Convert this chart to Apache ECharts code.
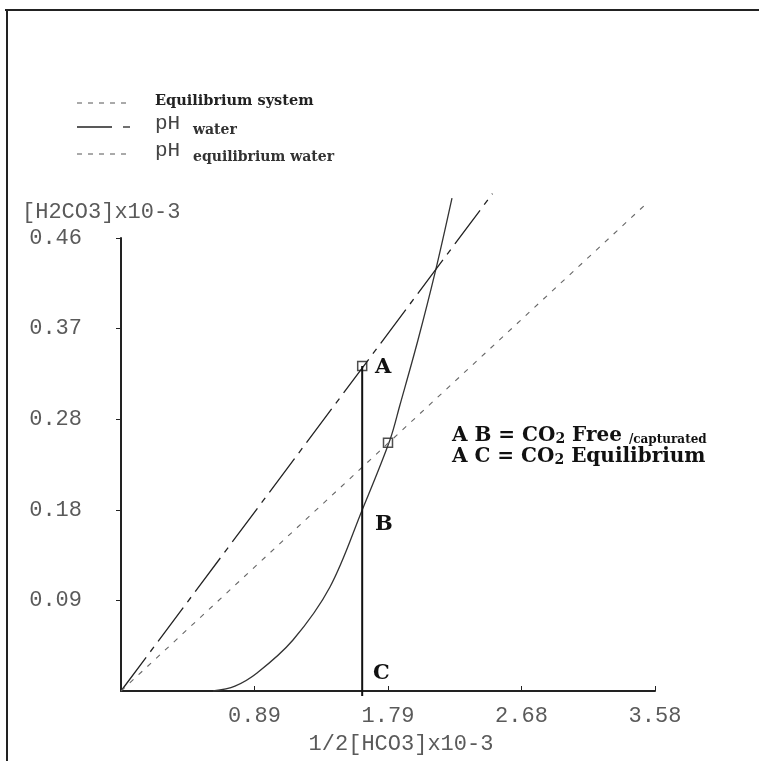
<!DOCTYPE html>
<html><head><meta charset="utf-8">
<script src="https://cdn.jsdelivr.net/npm/echarts@6/dist/echarts.min.js"></script>
<style>html,body{margin:0;padding:0;background:#fff}#c{width:759px;height:761px}</style>
</head><body><div id="c"></div>
<script>
// ---- data ----
const xTickLabels = ['0.89', '1.79', '2.68', '3.58'];
const yTickLabels = ['0.09', '0.18', '0.28', '0.37', '0.46'];
const xInterval = 0.895, xMax = 3.58;
const yInterval = 0.092, yMax = 0.46;
const equilibriumX = [0.617, 0.764, 0.912, 1.153, 1.401, 1.617, 1.803, 1.870, 1.991, 2.105, 2.219];
const equilibriumY = [0, 0.005, 0.0183, 0.0518, 0.1056, 0.1838, 0.2549, 0.2904, 0.3564, 0.4245, 0.5006];
const phWaterX = [0, 2.49];
const phWaterY = [0, 0.505];
const phEqX = [0, 3.53];
const phEqY = [0, 0.496];
const pointA = [1.617, 0.330];
const pointCBottom = [1.617, -0.005];
const pointEq = [1.79, 0.252];

const zip = (xs, ys) => xs.map((x, i) => [x, ys[i]]);

const chart = echarts.init(document.getElementById('c'), null, {renderer: 'canvas'});
const mono = "'Liberation Mono', 'DejaVu Sans Mono', monospace";
const serif = "'DejaVu Serif', 'Liberation Serif', serif";

const option = {
  backgroundColor: '#fff',
  animation: false,
  grid: {left: 121, right: 104, top: 238, bottom: 70, containLabel: false},
  xAxis: {
    type: 'value', min: 0, max: xMax, interval: xInterval,
    axisLine: {show: true, onZero: false, lineStyle: {color: '#222', width: 2}},
    axisTick: {show: true, inside: true, length: 5, lineStyle: {color: '#222', width: 1}},
    splitLine: {show: false},
    axisLabel: {
      show: true, showMinLabel: false, margin: 14,
      fontFamily: mono, fontSize: 22, color: '#5a5a5a',
      formatter: v => { const i = Math.round(v / xInterval) - 1; return i >= 0 ? xTickLabels[i] : ''; }
    }
  },
  yAxis: {
    type: 'value', min: 0, max: yMax, interval: yInterval,
    axisLine: {show: true, onZero: false, lineStyle: {color: '#222', width: 2}},
    axisTick: {show: true, inside: false, length: 5, lineStyle: {color: '#222', width: 1}},
    splitLine: {show: false},
    axisLabel: {
      show: true, showMinLabel: false, margin: 39, padding: [8, 0, 0, 0],
      fontFamily: mono, fontSize: 22, color: '#5a5a5a',
      formatter: v => { const i = Math.round(v / yInterval) - 1; return i >= 0 ? yTickLabels[i] : ''; }
    }
  },
  series: [
    {
      name: 'Equilibrium system', type: 'line', data: zip(equilibriumX, equilibriumY),
      showSymbol: false, smooth: 0.35, clip: false,
      lineStyle: {color: '#333', width: 1.3}
    },
    {
      name: 'pH water', type: 'line', data: zip(phWaterX, phWaterY),
      showSymbol: false, clip: false,
      lineStyle: {color: '#222', width: 1.3, type: [42, 7, 6, 7]}
    },
    {
      name: 'pH equilibrium water', type: 'line', data: zip(phEqX, phEqY),
      showSymbol: false, clip: false,
      lineStyle: {color: '#666', width: 1.1, type: [5, 7]}
    },
    {
      name: 'AC', type: 'line', data: [pointA, pointCBottom],
      showSymbol: false, clip: false,
      lineStyle: {color: '#111', width: 2}
    },
    {
      name: 'markers', type: 'scatter', data: [pointA, pointEq], clip: false,
      symbol: 'rect', symbolSize: 9,
      itemStyle: {color: '#fff', borderColor: '#222', borderWidth: 1.5}
    }
  ],
  graphic: [
    // frame
    {type: 'line', shape: {x1: 5, y1: 10, x2: 759, y2: 10}, style: {stroke: '#222', lineWidth: 2}},
    {type: 'line', shape: {x1: 7, y1: 10, x2: 7, y2: 761}, style: {stroke: '#222', lineWidth: 2}},
    // legend
    {type: 'line', shape: {x1: 77, y1: 103, x2: 131, y2: 103}, style: {stroke: '#555', lineWidth: 1, lineDash: [5, 6]}},
    {type: 'text', left: 155, top: 94, style: {text: 'Equilibrium system', font: "bold 14.5px " + serif, fill: '#222'}},
    {type: 'line', shape: {x1: 77, y1: 127, x2: 112, y2: 127}, style: {stroke: '#222', lineWidth: 1.3}},
    {type: 'line', shape: {x1: 123, y1: 127, x2: 130, y2: 127}, style: {stroke: '#222', lineWidth: 1.3}},
    {type: 'text', left: 155, top: 113, style: {text: 'pH', font: "21px " + mono, fill: '#444'}},
    {type: 'text', left: 193, top: 123, style: {text: 'water', font: "bold 14px " + serif, fill: '#333'}},
    {type: 'line', shape: {x1: 77, y1: 154, x2: 131, y2: 154}, style: {stroke: '#555', lineWidth: 1, lineDash: [5, 6]}},
    {type: 'text', left: 155, top: 140, style: {text: 'pH', font: "21px " + mono, fill: '#444'}},
    {type: 'text', left: 193, top: 150, style: {text: 'equilibrium water', font: "bold 14px " + serif, fill: '#333'}},
    // axis names
    {type: 'text', left: 22, top: 201, style: {text: '[H2CO3]x10-3', font: "22px " + mono, fill: '#5a5a5a'}},
    {type: 'text', x: 401, y: 744, style: {text: '1/2[HCO3]x10-3', font: "22px " + mono, fill: '#5a5a5a', align: 'center', verticalAlign: 'middle'}},
    // point labels
    {type: 'text', x: 375, y: 368, style: {text: 'A', font: "bold 21px " + serif, fill: '#111', verticalAlign: 'middle'}},
    {type: 'text', x: 375, y: 525, style: {text: 'B', font: "bold 21px " + serif, fill: '#111', verticalAlign: 'middle'}},
    {type: 'text', x: 373, y: 674, style: {text: 'C', font: "bold 21px " + serif, fill: '#111', verticalAlign: 'middle'}},
    // annotation
    {type: 'text', x: 452, y: 446, style: {
      text: '{a|A B = CO}{s|2}{a| Free }{c|/capturated}',
      verticalAlign: 'bottom',
      rich: {
        a: {font: "bold 20px " + serif, fill: '#111', lineHeight: 20, verticalAlign: 'bottom'},
        s: {font: "bold 14px " + serif, fill: '#111', lineHeight: 15, verticalAlign: 'bottom'},
        c: {font: "bold 12px " + serif, fill: '#111', lineHeight: 15, verticalAlign: 'bottom'}
      }
    }},
    {type: 'text', x: 452, y: 467, style: {
      text: '{a|A C = CO}{s|2}{a| Equilibrium}',
      verticalAlign: 'bottom',
      rich: {
        a: {font: "bold 20px " + serif, fill: '#111', lineHeight: 20, verticalAlign: 'bottom'},
        s: {font: "bold 14px " + serif, fill: '#111', lineHeight: 15, verticalAlign: 'bottom'}
      }
    }}
  ]
};
chart.setOption(option);
</script>
</body></html>
